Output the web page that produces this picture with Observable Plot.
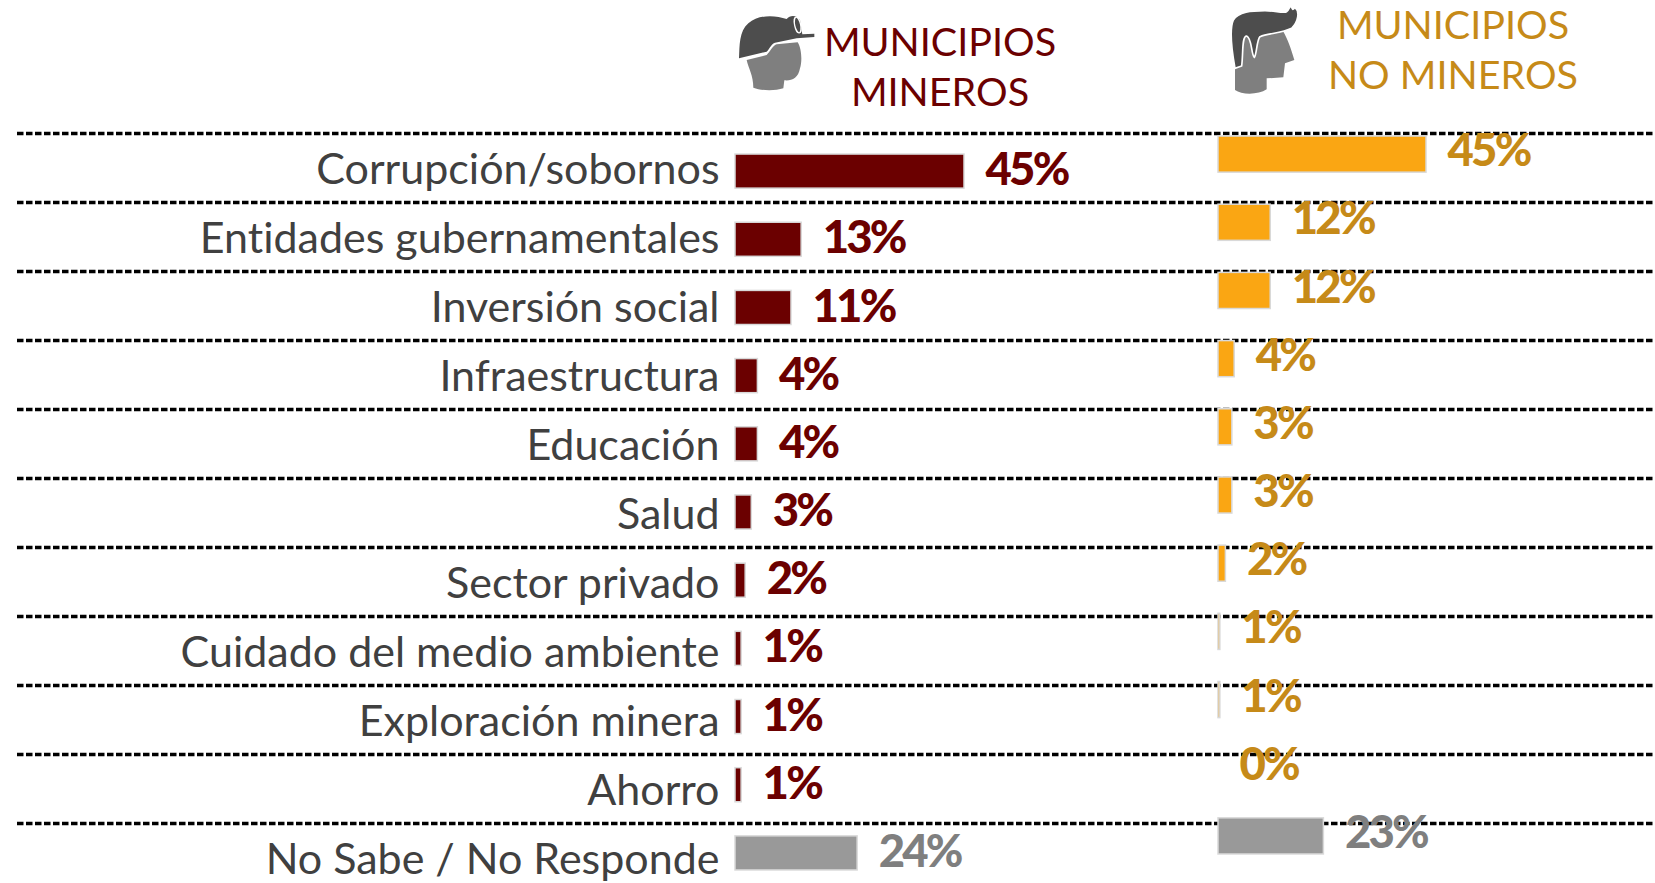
<!DOCTYPE html>
<html>
<head>
<meta charset="utf-8">
<script src="https://cdn.jsdelivr.net/npm/d3@7"></script>
<script src="https://cdn.jsdelivr.net/npm/@observablehq/plot@0.6"></script>
<style>
html,body{margin:0;padding:0;background:#fff;overflow:hidden}
#stage{position:relative;width:1655px;height:883px;font-family:Lato,sans-serif;font-variant-ligatures:none}
#stage>div,#stage>svg{position:absolute}
#stage svg{display:block}
.ttl{font-size:39.5px;line-height:49.5px;text-align:center;white-space:nowrap;transform:translateX(-50%)}
.pct text{letter-spacing:-2.8px}
</style>
</head>
<body>
<div id="stage">
  <div id="p0" style="left:0;top:0"></div>
  <div id="p1" style="left:0;top:0"></div>
  <div id="p2" style="left:0;top:0"></div>
  <svg style="left:725px;top:5px" width="100" height="100" viewBox="0 0 300 300">
    <path fill="#7f7f7f" d="M65 165L125 150C135 140 145 120 155 118L218 112C230 130 232 170 225 190C220 220 200 228 178 226L175 250C150 258 110 258 85 248C85 210 70 190 65 165Z"/>
    <path fill="#4d4d4d" d="M42 160C44 120 42 80 70 55C100 28 150 30 185 42C195 30 215 30 225 45L232 88L268 86L268 96L215 100L150 113C140 115 135 130 125 140Z"/>
    <ellipse cx="218" cy="60" rx="9" ry="24" transform="rotate(-12 218 60)" fill="#4d4d4d" stroke="#fff" stroke-width="4"/>
  </svg>
  <svg style="left:1215px;top:0" width="100" height="100" viewBox="0 0 300 300">
    <path fill="#7f7f7f" d="M60 190L60 270C80 285 130 285 155 268L155 235L205 232L210 190L238 180C230 150 215 110 205 95L130 105L90 110Z"/>
    <path fill="#4d4d4d" stroke="#fff" stroke-width="5" d="M60 205C50 150 42 90 55 60C70 35 110 32 150 32C180 32 205 40 215 35C222 30 222 20 228 18C232 25 232 35 240 22C255 35 250 65 230 85C200 100 160 100 135 110C125 120 125 165 118 172C108 165 112 115 95 108C80 108 85 160 80 198Z"/>
  </svg>
  <div class="ttl" style="left:940px;top:16px;color:#6b0000">MUNICIPIOS<br>MINEROS</div>
  <div class="ttl" style="left:1453px;top:-1px;color:#c68a18">MUNICIPIOS<br>NO MINEROS</div>
</div>
<script>
const categories = ["Corrupción/sobornos","Entidades gubernamentales","Inversión social","Infraestructura","Educación","Salud","Sector privado","Cuidado del medio ambiente","Exploración minera","Ahorro","No Sabe / No Responde"];
const minerosBars = [45,13,11,4.4,4.4,3.2,2,1.2,1.2,1.2,24];
const minerosLabels = ["45%","13%","11%","4%","4%","3%","2%","1%","1%","1%","24%"];
const noMinerosBars = [45,11.3,11.3,3.5,3,3,1.6,0.4,0.4,0,22.8];
const noMinerosLabels = ["45%","12%","12%","4%","3%","3%","2%","1%","1%","0%","23%"];
const WINE = "#6b0000", AMBER = "#faa613", AMBERTXT = "#c68a18", GREY = "#999999", GREYTXT = "#7f7f7f";

const rows = (bars, labels) => categories.map((c, i) => ({c, v: bars[i], label: labels[i]}));
const last = categories[categories.length - 1];
const common = {width: 1655, height: 883, marginTop: 0, marginBottom: 0, marginRight: 0, marginLeft: 17, axis: null, style: {background: "transparent"}};

const grid = Plot.plot({
  ...common,
  x: {domain: [0, 45], range: [735, 964], axis: null},
  y: {domain: categories, range: [133, 892], paddingInner: 0.5, paddingOuter: 0.25, round: false, axis: null},
  marks: [
    Plot.ruleY(categories, {y: d => d, dy: -34.5, stroke: "#000", strokeWidth: 3.5, strokeDasharray: "6.5,2.5"}),
    Plot.text(categories, {x: () => 0, y: d => d, text: d => d, dx: -16, dy: 2, textAnchor: "end", fontFamily: "Lato", fontSize: 43, fill: "#404040"})
  ]
});
document.getElementById("p0").append(grid);

const left = Plot.plot({
  ...common,
  x: {domain: [0, 45], range: [735, 964], axis: null},
  y: {domain: categories, range: [137, 887], paddingInner: 0.5, paddingOuter: 0.25, round: false, axis: null},
  marks: [
    Plot.barX(rows(minerosBars, minerosLabels), {x: "v", y: "c", fill: d => d.c === last ? GREY : WINE, stroke: "#d9d9d9", strokeWidth: 1.5}),
    Plot.text(rows(minerosBars, minerosLabels), {x: "v", y: "c", text: "label", dx: 21, dy: -1, textAnchor: "start", fontFamily: "Lato", fontWeight: 900, fontSize: 45.5, fill: d => d.c === last ? GREYTXT : WINE, className: "pct"})
  ]
});
document.getElementById("p1").append(left);

const right = Plot.plot({
  ...common,
  x: {domain: [0, 45], range: [1218, 1426], axis: null},
  y: {domain: categories, range: [120, 870], paddingInner: 0.47, paddingOuter: 0.235, round: false, axis: null},
  marks: [
    Plot.barX(rows(noMinerosBars, noMinerosLabels), {x: "v", y: "c", fill: d => d.c === last ? GREY : AMBER, stroke: d => d.v > 0 ? "#d9d9d9" : "none", strokeWidth: 1.5}),
    Plot.text(rows(noMinerosBars, noMinerosLabels), {x: "v", y: "c", text: "label", dx: 21, dy: -3, textAnchor: "start", fontFamily: "Lato", fontWeight: 900, fontSize: 45.5, fill: d => d.c === last ? GREYTXT : AMBERTXT, className: "pct"})
  ]
});
document.getElementById("p2").append(right);
</script>
</body>
</html>
